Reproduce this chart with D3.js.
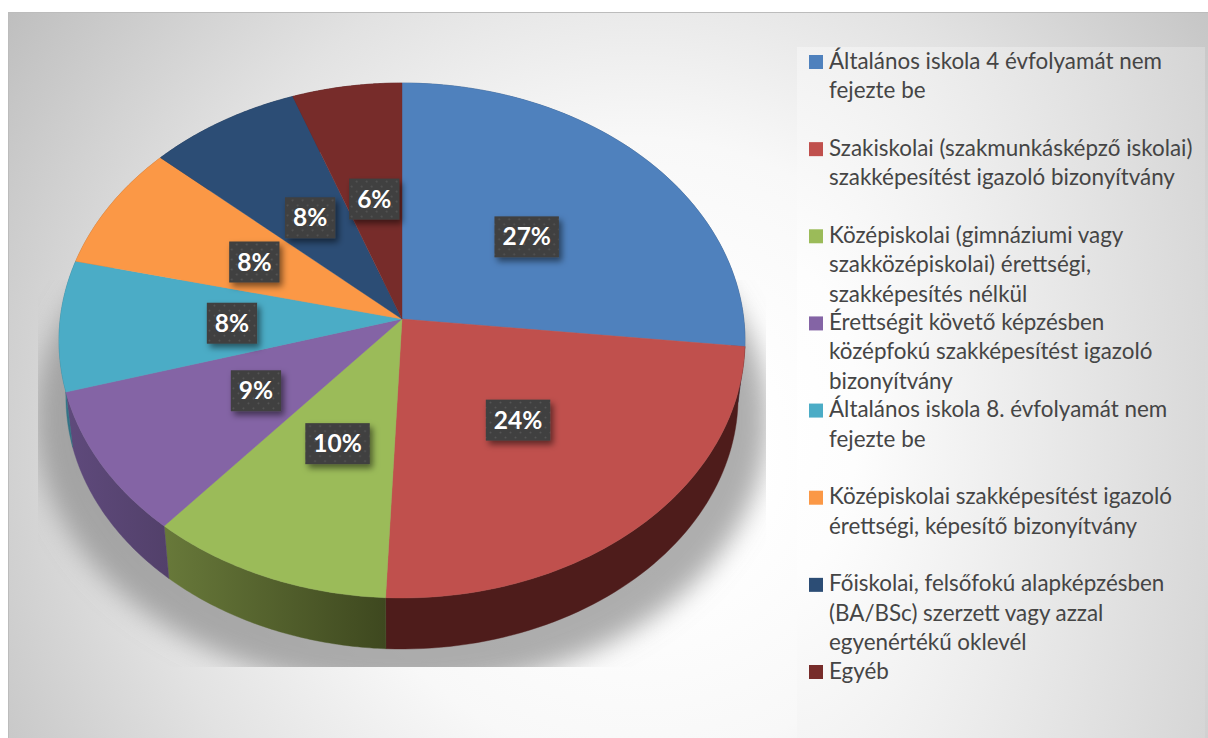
<!DOCTYPE html>
<html lang="hu"><head><meta charset="utf-8">
<script src="https://cdnjs.cloudflare.com/ajax/libs/d3/7.8.5/d3.min.js"></script>
<style>html,body{margin:0;padding:0;background:#fff;overflow:hidden}svg{display:block}</style>
</head><body><svg id="c" width="1208" height="738"></svg>
<script>
// Data
const categories = [
  ["Általános iskola 4 évfolyamát nem","fejezte be"],
  ["Szakiskolai (szakmunkásképző iskolai)","szakképesítést igazoló bizonyítvány"],
  ["Középiskolai (gimnáziumi vagy","szakközépiskolai) érettségi,","szakképesítés nélkül"],
  ["Érettségit követő képzésben","középfokú szakképesítést igazoló","bizonyítvány"],
  ["Általános iskola 8. évfolyamát nem","fejezte be"],
  ["Középiskolai szakképesítést igazoló","érettségi, képesítő bizonyítvány"],
  ["Főiskolai, felsőfokú alapképzésben","(BA/BSc) szerzett vagy azzal","egyenértékű oklevél"],
  ["Egyéb"]
];
const values = [26.7,24.0,10.6,9.2,8.2,7.9,7.8,5.6];
const valueLabels = ["27%","24%","10%","9%","8%","8%","8%","6%"];
const colors = ["#4f81bd","#c0504d","#9bbb59","#8464a5","#4bacc6","#fb9846","#2c4d75","#772c2a"];
const wallStart = ["#2f4d71","#4e1c1b","#68793a","#5f4a7c","#35798c","#a8642e","#1e3450","#4f1d1c"];
const wallEnd   = ["#2f4d71","#4e1c1b","#3e481f","#52406a","#2d6a7b","#a8642e","#1e3450","#4f1d1c"];

const svg = d3.select("#c"), defs = svg.append("defs");

function radial(id,cx,cy,r,stops,tf){
  const g = defs.append("radialGradient").attr("id",id).attr("gradientUnits","userSpaceOnUse")
    .attr("cx",cx).attr("cy",cy).attr("r",r);
  if(tf) g.attr("gradientTransform",tf);
  stops.forEach(s=>g.append("stop").attr("offset",s[0]).attr("stop-color",s[1]));
}
radial("bg",640,450,780,[[0,"#fff"],[.15,"#fff"],[.4,"#f8f8f8"],[.65,"#e2e2e2"],[1,"#bdbdbd"]]);
radial("lg",780,420,520,[[0,"#fff"],[.15,"#fdfdfd"],[1,"#cfcfcf"]],"translate(0,420) scale(1,2) translate(0,-420)");
defs.append("filter").attr("id","blur").attr("x","-20%").attr("y","-20%").attr("width","140%").attr("height","140%")
  .append("feGaussianBlur").attr("stdDeviation",13);
const ds = defs.append("filter").attr("id","ds").attr("x","-30%").attr("y","-30%").attr("width","170%").attr("height","170%");
ds.append("feDropShadow").attr("dx",3).attr("dy",4).attr("stdDeviation",3).attr("flood-color","#000").attr("flood-opacity",.5);
const pat = defs.append("pattern").attr("id","dots").attr("patternUnits","userSpaceOnUse").attr("width",10).attr("height",10);
pat.append("rect").attr("width",10).attr("height",10).attr("fill","#3f3f3f");
[[2.5,2.5],[7.5,7.5]].forEach(p=>pat.append("circle").attr("cx",p[0]).attr("cy",p[1]).attr("r",1).attr("fill","#565656"));
defs.append("clipPath").attr("id","shClip").append("rect").attr("x",38).attr("y",280).attr("width",728).attr("height",387);

// Panel
svg.append("rect").attr("x",8).attr("y",12).attr("width",1200).attr("height",726).attr("fill","url(#bg)");
svg.append("path").attr("d","M8.5 738V12.5H1208").attr("fill","none").attr("stroke","#bcbcbc");
svg.append("rect").attr("x",797).attr("y",47).attr("width",408).attr("height",691).attr("fill","url(#lg)");

// Perspective projection of the unit disc
const cx=402, cy=319, A=341.8, B=255.7, K=0.0835;
const depthShrink=.98, depthDrop=56.6;
function project(r,a,lower){
  const x=r*Math.sin(a), y=-r*Math.cos(a), w=1-K*y;
  const X=A*x/w, Y=B*y/w;
  return lower ? [cx+X*depthShrink, cy+depthDrop+Y*depthShrink] : [cx+X, cy+Y];
}
const pieGen = d3.pie().sort(null).value(d=>d).startAngle(0).endAngle(2*Math.PI);
const arcs = pieGen(values);
const line = d3.line();
const samples = (a0,a1)=>d3.range(0,61).map(i=>a0+(a1-a0)*i/60);

// Shadow
const g = svg.append("g");
g.append("g").attr("clip-path","url(#shClip)").append("ellipse")
  .attr("cx",402).attr("cy",420).attr("rx",366).attr("ry",270)
  .attr("fill","#8f8f8f").attr("fill-opacity",.72).attr("filter","url(#blur)");

// Walls
arcs.forEach((d,i)=>{
  const s = samples(d.startAngle,d.endAngle);
  const pts = s.map(a=>project(1,a,true)).concat(s.slice().reverse().map(a=>project(1,a,false)));
  const ex = d3.extent(pts,p=>p[0]);
  const lg = defs.append("linearGradient").attr("id","w"+i).attr("gradientUnits","userSpaceOnUse")
    .attr("x1",ex[0]).attr("x2",ex[1]).attr("y1",0).attr("y2",0);
  lg.append("stop").attr("offset",0).attr("stop-color",wallStart[i]);
  lg.append("stop").attr("offset",1).attr("stop-color",wallEnd[i]);
  g.append("path").attr("d",line(pts)+"Z").attr("fill",`url(#w${i})`).attr("stroke",`url(#w${i})`).attr("stroke-width",.4);
});
// Faces
arcs.forEach((d,i)=>{
  const pts=[[cx,cy]].concat(samples(d.startAngle,d.endAngle).map(a=>project(1,a,false)));
  g.append("path").attr("d",line(pts)+"Z").attr("fill",colors[i]).attr("stroke",colors[i]).attr("stroke-width",.4);
});
// Value labels
arcs.forEach((d,i)=>{
  const p=project(.5,(d.startAngle+d.endAngle)/2,false);
  const lab=g.append("g").attr("transform",`translate(${p[0]+1},${p[1]+1})`);
  const box=lab.append("rect").attr("fill","url(#dots)").attr("filter","url(#ds)");
  const t=lab.append("text").text(valueLabels[i]).attr("text-anchor","middle").attr("y",8.5)
    .attr("font-family","Lato, 'Open Sans', sans-serif").attr("font-weight",700).attr("font-size",24.5).attr("fill","#fff");
  const w=t.node().getComputedTextLength()+16;
  box.attr("x",-w/2).attr("y",-20.5).attr("width",w).attr("height",41);
});

// Legend
const rowY=d3.scaleLinear().domain([0,7]).range([68.5,678.5]);
const legend=svg.append("g");
categories.forEach((lines,i)=>{
  const y=rowY(i);
  legend.append("rect").attr("x",809).attr("y",y-13.5).attr("width",14).attr("height",14).attr("fill",colors[i]);
  lines.forEach((l,j)=>legend.append("text").text(l).attr("x",829).attr("y",y+j*29.5)
    .attr("font-family","Lato, sans-serif").attr("font-size",22.4).attr("fill","#454545"));
});
</script></body></html>
